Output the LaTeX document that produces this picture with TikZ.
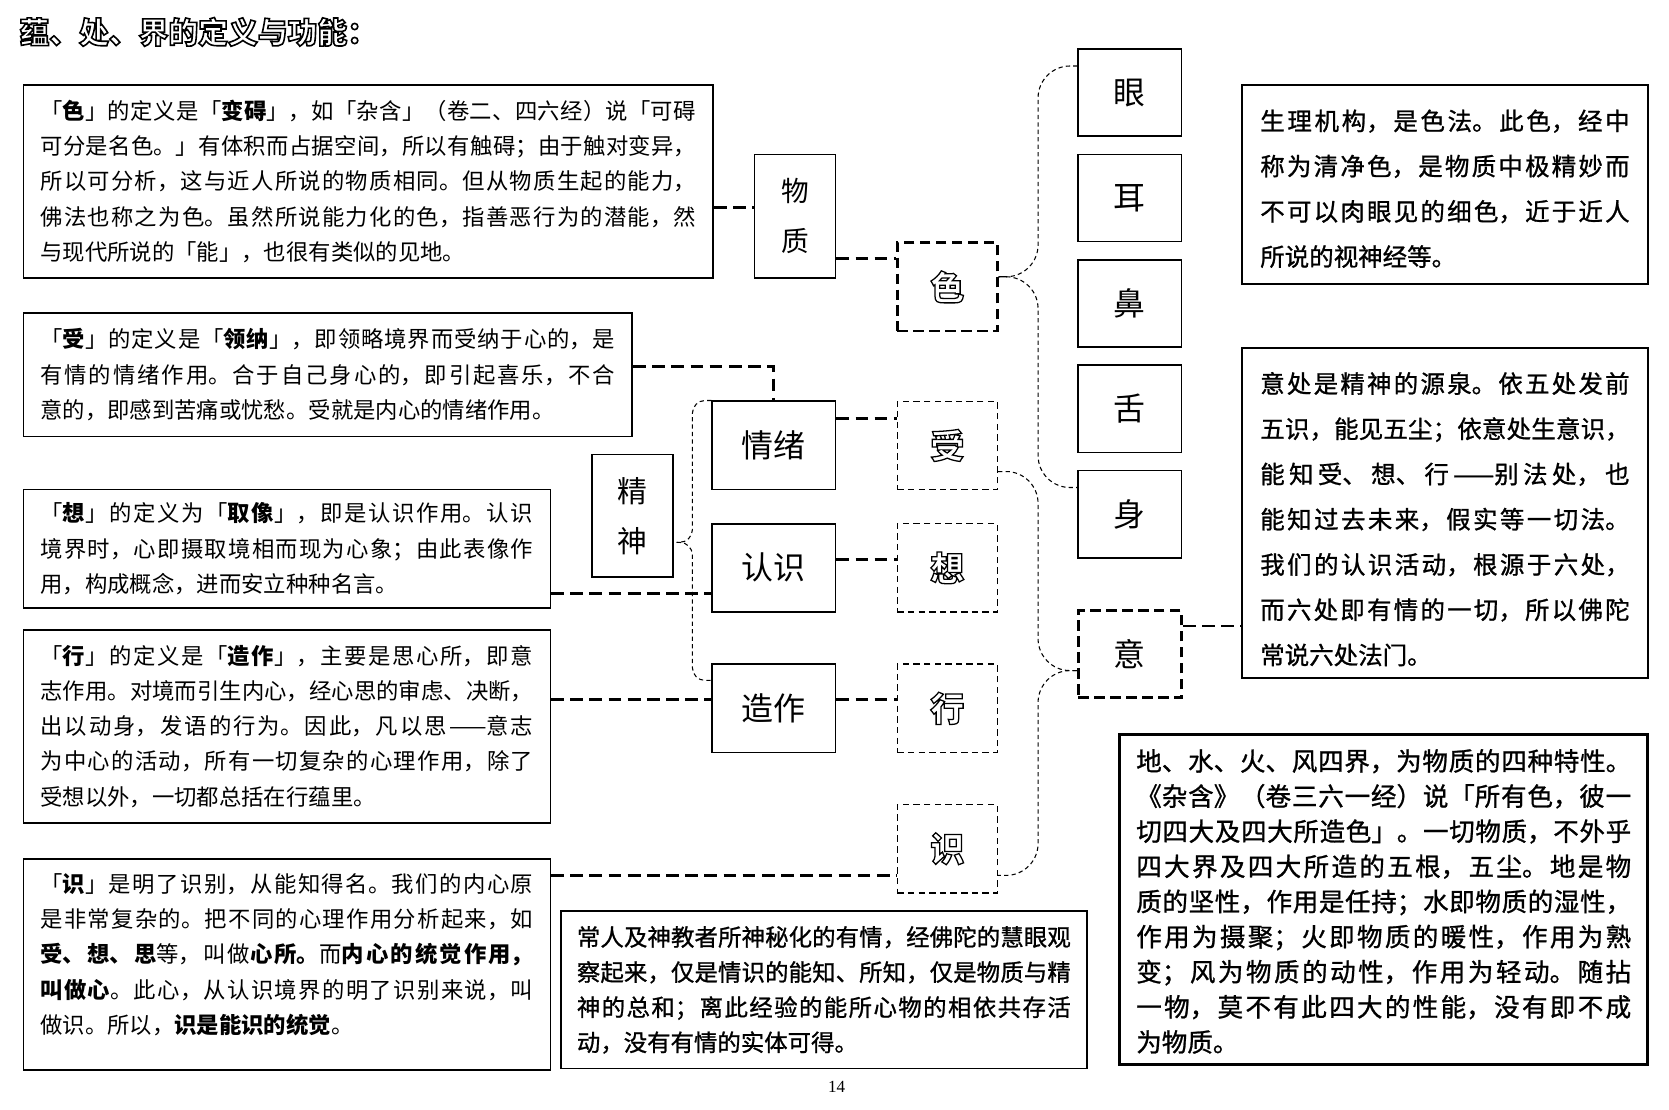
\documentclass[tikz,border=0pt]{standalone}
\usepackage{fontspec}
\setmainfont{Noto Sans CJK SC}
\newfontfamily\cjkmid{Noto Sans CJK SC}[FakeBold=1]
\newfontfamily\pagefont{Liberation Serif}
\XeTeXlinebreaklocale "zh"
\XeTeXlinebreakskip=0pt plus 3pt
\usetikzlibrary{positioning,calc}
\newcommand\hollow[2][1.2]{{\color{white}\special{pdf:literal direct 0 G 2 Tr #1 w}#2\special{pdf:literal direct 0 Tr}}}

\begin{document}
\begin{tikzpicture}[x=1pt,y=-1pt,
 defbox/.style={draw,line width=1.5pt,inner xsep=16pt,inner ysep=0pt,align=justify,
 font=\fontsize{21}{33}\selectfont},
 notebox/.style={draw,line width=1.5pt,inner xsep=15pt,inner ysep=0pt,align=justify},
 keybox/.style={draw,line width=1.5pt,inner sep=0pt,align=center},
 mind/.style={keybox,minimum width=116pt,minimum height=83pt,font=\fontsize{30}{30}\selectfont},
 sense/.style={keybox,minimum width=97pt,minimum height=82pt,font=\fontsize{30}{30}\selectfont},
 yunbox/.style={draw,line width=1.4pt,dash pattern=on 6pt off 4pt,inner sep=0pt,
 minimum width=94pt,minimum height=83pt,font=\bfseries\fontsize{32}{32}\selectfont},
 heavy/.style={line width=2.5pt,dash pattern=on 10pt off 5pt},
 link/.style={line width=2.6pt,dash pattern=on 12pt off 6pt},
 brace/.style={line width=1pt,dash pattern=on 4pt off 3pt}]
\useasboundingbox (0,0) rectangle (1568,1042);

\node[anchor=west,inner sep=0pt,font=\bfseries\fontsize{28}{28}\selectfont] (title) at (18,30)
 {\hollow[1.5]{蕴、处、界的定义与功能：}};

\node[defbox,text width=616pt,minimum height=181pt] (defSe) at (346,170.5) {%
「\textbf{色}」的定义是「\textbf{变碍}」，如「杂含」（卷二、四六经）说「可碍\linebreak
可分是名色。」有体积而占据空间，所以有触碍；由于触对变异，\linebreak
所以可分析，这与近人所说的物质相同。但从物质生起的能力，\linebreak
佛法也称之为色。虽然所说能力化的色，指善恶行为的潜能，然\linebreak
与现代所说的「能」，也很有类似的见地。};
\node[defbox,text width=540pt,minimum height=116pt] (defShou) at (308,352) {%
「\textbf{受}」的定义是「\textbf{领纳}」，即领略境界而受纳于心的，是\linebreak
有情的情绪作用。合于自己身心的，即引起喜乐，不合\linebreak
意的，即感到苦痛或忧愁。受就是内心的情绪作用。};
\node[defbox,text width=463pt,minimum height=111pt] (defXiang) at (269.5,515.5) {%
「\textbf{想}」的定义为「\textbf{取像}」，即是认识作用。认识\linebreak
境界时，心即摄取境相而现为心象；由此表像作\linebreak
用，构成概念，进而安立种种名言。};
\node[defbox,text width=463pt,minimum height=181pt] (defXing) at (269.5,682.5) {%
「\textbf{行}」的定义是「\textbf{造作}」，主要是思心所，即意\linebreak
志作用。对境而引生内心，经心思的审虑、决断，\linebreak
出以动身，发语的行为。因此，凡以思——意志\linebreak
为中心的活动，所有一切复杂的心理作用，除了\linebreak
受想以外，一切都总括在行蕴里。};
\node[defbox,text width=463pt,minimum height=198pt,text depth=152.5pt] (defShi) at (269.5,906) {%
「\textbf{识}」是明了识别，从能知得名。我们的内心原\linebreak
是非常复杂的。把不同的心理作用分析起来，如\linebreak
\textbf{受、想、思}等，叫做\textbf{心所。}而\textbf{内心的统觉作用，}\linebreak
\textbf{叫做心}。此心，从认识境界的明了识别来说，叫\linebreak
做识。所以，\textbf{识是能识的统觉}。};

\node[keybox,minimum width=76pt,minimum height=116pt,font=\fontsize{26}{47}\selectfont] (wuzhi) at (747,203) {物\\质};
\node[yunbox,heavy] (se) at (890,269.5) {\hollow{色}};
\node[keybox,minimum width=76pt,minimum height=115pt,font=\fontsize{28}{47}\selectfont] (jingshen) at (594,484.5) {精\\神};
\node[mind] (qingxu) at (727,418.5) {情绪};
\node[mind,below=30.5pt of qingxu] (renshi) {认识};
\node[mind,below=47.5pt of renshi] (zaozuo) {造作};
\node[yunbox,right=56.5pt of qingxu] (shou) {\hollow{受}};
\node[yunbox,right=56.5pt of renshi] (xiang) {\hollow{想}};
\node[yunbox,right=56.5pt of zaozuo] (xing) {\hollow{行}};
\node[yunbox,below=47.5pt of xing] (shi) {\hollow{识}};

\node[sense] (yan) at (1061.5,87) {眼};
\node[sense,below=15.5pt of yan] (er) {耳};
\node[sense,below=15.5pt of er] (bi) {鼻};
\node[sense,below=15.5pt of bi] (she) {舌};
\node[sense,below=15.5pt of she] (shen) {身};
\node[sense,heavy,below=47.5pt of shen] (yi) {意};

\node[notebox,text width=347pt,minimum width=381pt,minimum height=187pt,text height=27pt,
 font=\cjkmid\fontsize{23}{42.5}\selectfont] (noteSe) at (1357.5,173.5) {%
生理机构，是色法。此色，经中\linebreak
称为清净色，是物质中极精妙而\linebreak
不可以肉眼见的细色，近于近人\linebreak
所说的视神经等。};
\node[notebox,text width=347pt,minimum width=381pt,minimum height=310pt,text height=31pt,
 font=\cjkmid\fontsize{23}{42.5}\selectfont] (noteYi) at (1357.5,482) {%
意处是精神的源泉。依五处发前\linebreak
五识，能见五尘；依意处生意识，\linebreak
能知受、想、行——别法处，也\linebreak
能知过去未来，假实等一切法。\linebreak
我们的认识活动，根源于六处，\linebreak
而六处即有情的一切，所以佛陀\linebreak
常说六处法门。};
\node[notebox,line width=2.6pt,text width=465pt,minimum width=496pt,minimum height=310pt,text height=24pt,
 font=\cjkmid\fontsize{24}{33}\selectfont] (noteDa) at (1300,845) {%
地、水、火、风四界，为物质的四种特性。\linebreak
《杂含》（卷三六一经）说「所有色，彼一\linebreak
切四大及四大所造色」。一切物质，不外乎\linebreak
四大界及四大所造的五根，五尘。地是物\linebreak
质的坚性，作用是任持；水即物质的湿性，\linebreak
作用为摄聚；火即物质的暖性，作用为熟\linebreak
变；风为物质的动性，作用为轻动。随拈\linebreak
一物，莫不有此四大的性能，没有即不成\linebreak
为物质。};
\node[notebox,text width=464pt,minimum width=494pt,minimum height=148pt,
 font=\cjkmid\fontsize{22}{33}\selectfont] (noteZong) at (774,930) {%
常人及神教者所神秘化的有情，经佛陀的慧眼观\linebreak
察起来，仅是情识的能知、所知，仅是物质与精\linebreak
神的总和；离此经验的能所心物的相依共存活\linebreak
动，没有有情的实体可得。};

\node[font=\pagefont\fontsize{16}{16}\selectfont] (pageNo) at (786,1021) {14};

\coordinate (wzIn) at ([yshift=8pt]wuzhi.west);
\coordinate (wzOut) at ([yshift=-40pt]wuzhi.east);
\coordinate (shouOut) at ([yshift=8pt]defShou.east);
\coordinate (qxOut) at ([yshift=25pt]qingxu.east);
\coordinate (rsOut) at ([yshift=8pt]renshi.east);
\coordinate (zzOut) at ([yshift=8pt]zaozuo.east);
\coordinate (rsIn) at ([yshift=-24pt]renshi.west);
\coordinate (shiIn) at ([yshift=-16pt]defShi.north east);
\coordinate (yiOut) at ([yshift=26.5pt]yi.east);
\draw[link] (defSe.east |- wzIn) -- (wzIn);
\draw[link] (wzOut) -- (wzOut -| se.west);
\draw[link] (shouOut) -| (qingxu.north);
\draw[link] (qxOut) -- (qxOut -| shou.west);
\draw[link] (rsOut) -- (rsOut -| xiang.west);
\draw[link] (zzOut) -- (zzOut -| xing.west);
\draw[link] (defXiang.east |- rsIn) -- (rsIn);
\draw[link] (defXing.east |- zzOut) -- (zzOut -| zaozuo.west);
\draw[link] (shiIn) -- (shiIn -| shi.west);
\draw[link] (yiOut) -- (yiOut -| noteYi.west);

\coordinate (jsTip) at ([xshift=3pt,yshift=-25pt]jingshen.east);
\coordinate (jsBar) at ($(jingshen.east)!.5!(qingxu.west)$);
\coordinate (zzTop) at ([yshift=-16pt]zaozuo.north west);
\draw[brace,rounded corners=12pt] (qingxu.north west) -| (jsBar |- jsTip) -- (jsTip);
\draw[brace,rounded corners=12pt] (jsTip) -- (jsBar |- jsTip) |- (zzTop);

\coordinate (seTip) at ([yshift=9.5pt]se.east);
\coordinate (seBar) at ($(se.east)!.5!(yan.west)$);
\draw[brace,rounded corners=30pt] ([yshift=25pt]yan.west) -| (seBar |- seTip) -- (seTip);
\draw[brace,rounded corners=30pt] (seTip) -- (seBar |- seTip) |- ([yshift=25pt]shen.west);

\coordinate (yiTip) at ([yshift=-15.5pt]yi.west);
\draw[brace,rounded corners=30pt] ([yshift=-24.5pt]shou.east) -| (seBar |- yiTip) -- (yiTip);
\draw[brace,rounded corners=30pt] (yiTip) -- (seBar |- yiTip) |- ([yshift=-25pt]shi.east);
\end{tikzpicture}
\end{document}
